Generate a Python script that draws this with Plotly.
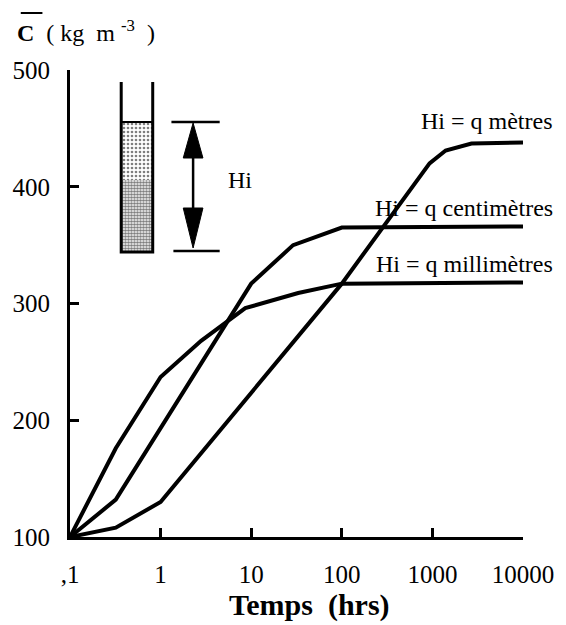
import plotly.graph_objects as go

# Mean concentration C (kg m^-3) versus time (hrs) for three initial heights Hi
time_mm = [0.1, 0.32, 1, 2.8, 8.6, 33, 100, 10000]
conc_mm = [100, 176, 237, 268, 296, 309, 317, 318]

time_cm = [0.1, 0.32, 10, 29, 100, 10000]
conc_cm = [100, 132, 317, 350, 365, 366]

time_m = [0.1, 0.32, 1, 100, 930, 1400, 2700, 10000]
conc_m = [100, 108, 130, 317, 420, 431, 437, 438]

curve_labels = ["Hi = q millimètres", "Hi = q centimètres", "Hi = q mètres"]

x_tickvals = [0.1, 1, 10, 100, 1000, 10000]
x_ticktext = [",1", "1", "10", "100", "1000", "10000"]
y_tickvals = [100, 200, 300, 400, 500]

SERIF = "Liberation Serif, Times New Roman, serif"
W, H = 566, 625
L, R, T, B = 65, 525, 70, 537  # plot-area edges in page pixels


def px(x):
    """page pixel x -> paper fraction"""
    return (x - L) / (R - L)


def py(y):
    """page pixel y -> paper fraction"""
    return (B - y) / (B - T)


fig = go.Figure()

for tx, cy in [(time_mm, conc_mm), (time_cm, conc_cm), (time_m, conc_m)]:
    fig.add_trace(go.Scatter(
        x=tx, y=cy, mode="lines",
        line=dict(color="black", width=4),
        cliponaxis=False, showlegend=False, hoverinfo="skip",
    ))

# ---- inset sketch of the settling column, drawn on a pixel-scaled overlay axis ----
def poly(xs, ys, **kw):
    fig.add_trace(go.Scatter(x=xs, y=ys, xaxis="x2", yaxis="y2",
                             showlegend=False, hoverinfo="skip",
                             cliponaxis=False, **kw))

tube_l, tube_r = 117, 149
# stippled layers (lighter upper, darker lower)
poly([tube_l, tube_r, tube_r, tube_l, tube_l], [122, 122, 180, 180, 122],
     mode="lines", line=dict(width=0), fill="toself", fillcolor="white",
     fillpattern=dict(shape=".", size=4, solidity=0.35,
                      fgcolor="black", bgcolor="white"))
poly([tube_l, tube_r, tube_r, tube_l, tube_l], [180, 180, 252, 252, 180],
     mode="lines", line=dict(width=0), fill="toself", fillcolor="white",
     fillpattern=dict(shape=".", size=3, solidity=0.65,
                      fgcolor="black", bgcolor="white"))
# tube walls and bottom
poly([tube_l, tube_l, tube_r, tube_r], [82, 252, 252, 82],
     mode="lines", line=dict(color="black", width=3))
poly([tube_l, tube_r], [122, 122], mode="lines", line=dict(color="black", width=2))
# height markers
poly([168, 217], [122, 122], mode="lines", line=dict(color="black", width=2.5))
poly([170, 217], [251, 251], mode="lines", line=dict(color="black", width=2.5))
poly([190, 190], [150, 215], mode="lines", line=dict(color="black", width=2.5))
# arrowheads
poly([190, 180, 200, 190], [123, 158, 158, 123], mode="lines",
     line=dict(color="black", width=1), fill="toself", fillcolor="black")
poly([190, 180, 200, 190], [248, 208, 208, 248], mode="lines",
     line=dict(color="black", width=1), fill="toself", fillcolor="black")

annotations = [
    dict(x=223, y=180, text="Hi", xanchor="left", yanchor="middle"),
    dict(x=558, y=121, text=curve_labels[2], xanchor="right", yanchor="middle"),
    dict(x=558, y=208, text=curve_labels[1], xanchor="right", yanchor="middle"),
    dict(x=558, y=264, text=curve_labels[0], xanchor="right", yanchor="middle"),
    dict(x=9, y=31,
         text="<b>C</b> &nbsp;( kg&nbsp; m <sup>-3</sup> &nbsp;)",
         xanchor="left", yanchor="middle"),
    dict(x=308, y=605, text="<b>Temps&nbsp; (hrs)</b>", xanchor="center",
         yanchor="middle", font=dict(family=SERIF, size=30, color="black")),
]
for a in annotations:
    a.setdefault("font", dict(family=SERIF, size=24, color="black"))
    a["x"] = px(a["x"])
    a["y"] = py(a["y"])
    fig.add_annotation(xref="paper", yref="paper", showarrow=False, **a)

# overline on C
fig.add_shape(type="line", xref="paper", yref="paper",
              x0=px(15), x1=px(37), y0=py(13), y1=py(13),
              line=dict(color="black", width=2))

fig.update_layout(
    width=W, height=H,
    margin=dict(l=L, r=W - R, t=T, b=H - B),
    paper_bgcolor="white", plot_bgcolor="white",
    showlegend=False,
    xaxis=dict(
        type="log", range=[-1, 4],
        tickvals=x_tickvals, ticktext=x_ticktext,
        ticks="inside", ticklen=9, tickwidth=3, tickcolor="black",
        showline=True, linewidth=3, linecolor="black",
        showgrid=False, zeroline=False,
        tickfont=dict(family=SERIF, size=25, color="black"),
        ticklabelstandoff=13,
    ),
    yaxis=dict(
        range=[100, 500],
        tickvals=y_tickvals,
        ticks="inside", ticklen=9, tickwidth=3, tickcolor="black",
        showline=True, linewidth=3, linecolor="black",
        showgrid=False, zeroline=False,
        tickfont=dict(family=SERIF, size=25, color="black"),
        ticklabelstandoff=12,
    ),
    xaxis2=dict(overlaying="x", range=[L, R], visible=False,
                showgrid=False, zeroline=False),
    yaxis2=dict(overlaying="y", range=[B, T], visible=False,
                showgrid=False, zeroline=False),
)

fig.write_html("out.html")
